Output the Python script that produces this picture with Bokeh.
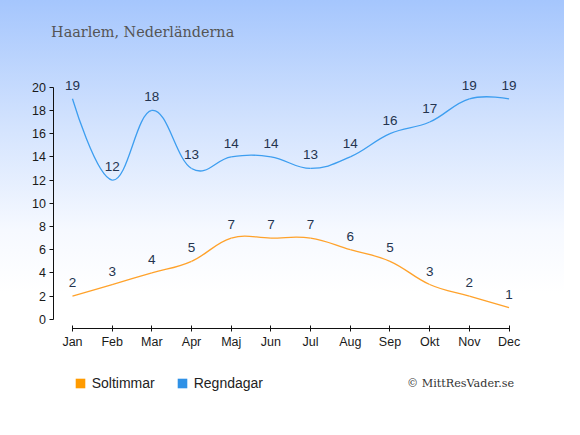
import numpy as np
from bokeh.plotting import figure
from bokeh.models import FixedTicker, Legend, LegendItem, Label, Range1d
from bokeh.core.properties import value
from bokeh.embed import file_html
from bokeh.resources import INLINE

months = ["Jan", "Feb", "Mar", "Apr", "Maj", "Jun", "Jul", "Aug", "Sep", "Okt", "Nov", "Dec"]
soltimmar = [2, 3, 4, 5, 7, 7, 7, 6, 5, 3, 2, 1]
regndagar = [19, 12, 18, 13, 14, 14, 13, 14, 16, 17, 19, 19]
yticks = [0, 2, 4, 6, 8, 10, 12, 14, 16, 18, 20]
title_text = "Haarlem, Nederländerna"
copyright_text = "© MittResVader.se"

ORANGE = "#ffa22b"
BLUE = "#3d9ef0"
LABEL_COLOR = "#24344f"


def spline_segments(xs, ys, smoothing=1.5):
    """Spline control points (Highcharts-like smoothing, no clamping)."""
    n = len(xs)
    denom = smoothing + 1
    left = [(xs[i], ys[i]) for i in range(n)]
    right = [(xs[i], ys[i]) for i in range(n)]
    for i in range(1, n - 1):
        px, py = xs[i], ys[i]
        lx, ly = xs[i - 1], ys[i - 1]
        nx, ny = xs[i + 1], ys[i + 1]
        lcx = (smoothing * px + lx) / denom
        lcy = (smoothing * py + ly) / denom
        rcx = (smoothing * px + nx) / denom
        rcy = (smoothing * py + ny) / denom
        corr = ((rcy - lcy) * (rcx - px)) / (rcx - lcx) + py - rcy
        lcy += corr
        rcy += corr
        left[i] = (lcx, lcy)
        right[i] = (rcx, rcy)
    seg = dict(x0=[], y0=[], x1=[], y1=[], cx0=[], cy0=[], cx1=[], cy1=[])
    for i in range(n - 1):
        seg["x0"].append(xs[i]); seg["y0"].append(ys[i])
        seg["x1"].append(xs[i + 1]); seg["y1"].append(ys[i + 1])
        seg["cx0"].append(right[i][0]); seg["cy0"].append(right[i][1])
        seg["cx1"].append(left[i + 1][0]); seg["cy1"].append(left[i + 1][1])
    return seg


x = list(range(len(months)))

p = figure(width=564, height=419, output_backend="svg", toolbar_location=None,
           x_range=Range1d(-1.813, 12.397), y_range=Range1d(-8.63, 27.47),
           min_border=0)
p.title = None
p.background_fill_alpha = 0
p.border_fill_alpha = 0
p.outline_line_color = None
p.styles = {"background-image": "linear-gradient(to bottom, #a5c6fd 0%, #d3e3fe 30%, #f6f9ff 55%, #ffffff 70%)"}
p.grid.visible = False

for ax in (p.xaxis[0], p.yaxis[0]):
    ax.axis_line_color = "#111111"
    ax.major_tick_line_color = "#111111"
    ax.minor_tick_line_color = None
    ax.major_label_text_font = "Liberation Sans"
    ax.major_label_text_font_size = "12.5px"
    ax.major_label_text_color = "#1a1a1a"

p.xaxis.ticker = FixedTicker(ticks=x)
p.xaxis.major_label_overrides = {i: m for i, m in enumerate(months)}
p.xaxis.bounds = (0, 11)
p.xaxis.fixed_location = -0.83
p.xaxis.major_tick_in = 3
p.xaxis.major_tick_out = 3
p.xaxis.major_label_standoff = 3

p.yaxis.ticker = FixedTicker(ticks=yticks)
p.yaxis.bounds = (0, 20)
p.yaxis.fixed_location = -0.4656
p.yaxis.major_tick_in = 0
p.yaxis.major_tick_out = 4
p.yaxis.major_label_standoff = 4

s1 = spline_segments(x, soltimmar)
s2 = spline_segments(x, regndagar)
p.bezier(x0="x0", y0="y0", x1="x1", y1="y1", cx0="cx0", cy0="cy0", cx1="cx1", cy1="cy1",
         source=s1, line_color=ORANGE, line_width=1.3)
p.bezier(x0="x0", y0="y0", x1="x1", y1="y1", cx0="cx0", cy0="cy0", cx1="cx1", cy1="cy1",
         source=s2, line_color=BLUE, line_width=1.3)

for vals in (soltimmar, regndagar):
    p.text(x=x, y=vals, text=[str(v) for v in vals], text_align="center", text_baseline="middle",
           y_offset=-13.5, text_font=value("Liberation Sans"), text_font_size="13.5px",
           text_color=LABEL_COLOR)

# invisible (size 0) markers on the series points, used only for the legend swatches
r_sol = p.scatter(x=x, y=soltimmar, marker="square", size=0, fill_color="#ff9b00",
                  line_width=0, line_alpha=0)
r_reg = p.scatter(x=x, y=regndagar, marker="square", size=0, fill_color="#2f91e6",
                  line_width=0, line_alpha=0)
legend = Legend(items=[LegendItem(label="Soltimmar", renderers=[r_sol]),
                       LegendItem(label="Regndagar", renderers=[r_reg])],
                orientation="horizontal", location=(67.7, 23.6),
                glyph_width=24, glyph_height=24, label_standoff=0, spacing=15,
                padding=0, margin=0, border_line_alpha=0, background_fill_alpha=0,
                label_text_font="Liberation Sans", label_text_font_size="14px",
                label_text_color="#222222")
p.add_layout(legend, "center")

p.add_layout(Label(x=50.6, y=387.2, x_units="screen", y_units="screen", text=title_text,
                   text_font="DejaVu Serif", text_font_size="14.4px", text_color="#555555",
                   text_baseline="middle", text_align="left"))
p.add_layout(Label(x=406.5, y=35.6, x_units="screen", y_units="screen", text=copyright_text,
                   text_font="DejaVu Serif", text_font_size="11.2px", text_color="#333333",
                   text_baseline="middle", text_align="left"))

open("out.html", "w").write(file_html(p, INLINE))
